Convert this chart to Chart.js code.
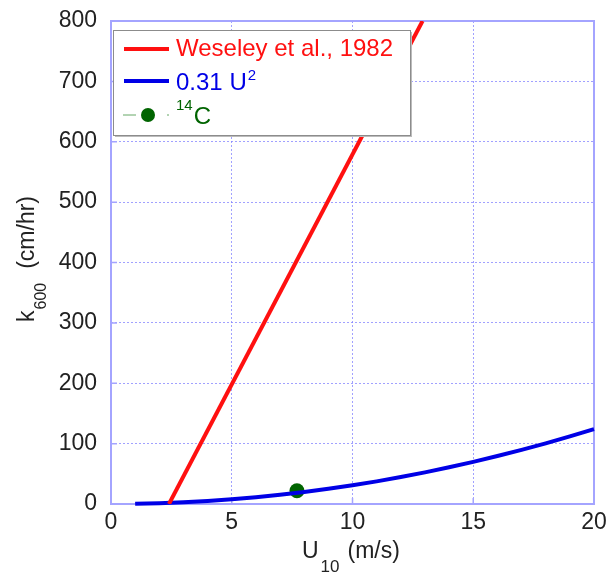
<!DOCTYPE html>
<html>
<head>
<meta charset="utf-8">
<script src="https://cdn.jsdelivr.net/npm/chart.js@4/dist/chart.umd.min.js"></script>
<style>
html, body { margin: 0; padding: 0; background: #fff; }
#wrap { width: 606px; height: 573px; }
</style>
</head>
<body>
<div id="wrap"><canvas id="chart" width="606" height="573"></canvas></div>
<script>
// Данные
const uWind = [1, 2, 3, 4, 5, 6, 7, 8, 9, 10, 11, 12, 13, 14, 15, 16, 17, 18, 19, 20];
const k600 = [0.3, 1.2, 2.8, 5.0, 7.8, 11.2, 15.2, 19.8, 25.1, 31.0, 37.5, 44.6, 52.4, 60.8, 69.8, 79.4, 89.6, 100.4, 111.9, 124.0];
const weseleyU = [2.4, 12.9];
const weseleyK = [0, 800];
const c14U = [7.7];
const c14K = [22];
const xTicks = [0, 5, 10, 15, 20];
const yTicks = [0, 100, 200, 300, 400, 500, 600, 700, 800];

const FONT = "'Liberation Sans', Arial, Helvetica, sans-serif";
const RED = '#ff1010';
const BLUE = '#0000e6';
const GREEN = '#006400';
const FRAME = '#a4a4ff';

function pts(xs, ys) {
    return xs.map((x, i) => ({ x: x, y: ys[i] }));
}

// убираем отступы, которые Chart.js добавляет под подписи
function noOverflow(axis) {
    axis.paddingTop = 0;
    axis.paddingBottom = 0;
    axis.paddingLeft = 0;
    axis.paddingRight = 0;
}

// Рамка области графика и короткие засечки
const framePlugin = {
    id: 'frame',
    beforeDatasetsDraw(chart) {
        const { ctx, chartArea: a, scales } = chart;
        ctx.save();
        ctx.strokeStyle = FRAME;
        ctx.lineWidth = 2;
        ctx.strokeRect(a.left, a.top, a.right - a.left, a.bottom - a.top);
        ctx.lineWidth = 1.5;
        ctx.beginPath();
        yTicks.forEach(v => {
            const y = scales.y.getPixelForValue(v);
            ctx.moveTo(a.left, y);
            ctx.lineTo(a.left + 6, y);
        });
        xTicks.forEach(v => {
            const x = scales.x.getPixelForValue(v);
            ctx.moveTo(x, a.bottom);
            ctx.lineTo(x, a.bottom - 6);
        });
        ctx.stroke();
        ctx.restore();
    }
};

// Легенда и подписи осей с индексами
const labelsPlugin = {
    id: 'labels',
    afterDraw(chart) {
        const ctx = chart.ctx;
        ctx.save();

        // легенда
        const bx = 113, by = 30, bw = 297, bh = 105;
        ctx.fillStyle = '#bbbbbb';
        ctx.fillRect(bx + 2, by + 2, bw, bh);
        ctx.fillStyle = '#ffffff';
        ctx.fillRect(bx, by, bw, bh);
        ctx.strokeStyle = '#8c8c8c';
        ctx.lineWidth = 1;
        ctx.strokeRect(bx + 0.5, by + 0.5, bw, bh);

        ctx.textBaseline = 'alphabetic';
        ctx.textAlign = 'left';

        // Weseley
        ctx.strokeStyle = RED;
        ctx.lineWidth = 4;
        ctx.beginPath();
        ctx.moveTo(124, 49);
        ctx.lineTo(169, 49);
        ctx.stroke();
        ctx.fillStyle = RED;
        ctx.font = '24px ' + FONT;
        ctx.fillText('Weseley et al., 1982', 176, 56);

        // 0.31 U^2
        ctx.strokeStyle = BLUE;
        ctx.beginPath();
        ctx.moveTo(124, 81);
        ctx.lineTo(169, 81);
        ctx.stroke();
        ctx.fillStyle = BLUE;
        ctx.fillText('0.31 U', 176, 90);
        let w = ctx.measureText('0.31 U').width;
        ctx.font = '15px ' + FONT;
        ctx.fillText('2', 176 + w + 1, 80);

        // 14C
        ctx.strokeStyle = '#66a866';
        ctx.lineWidth = 1;
        ctx.beginPath();
        ctx.moveTo(123, 115);
        ctx.lineTo(136, 115);
        ctx.moveTo(167, 115);
        ctx.lineTo(169, 115);
        ctx.stroke();
        ctx.fillStyle = GREEN;
        ctx.beginPath();
        ctx.arc(148, 115, 7, 0, Math.PI * 2);
        ctx.fill();
        ctx.font = '15px ' + FONT;
        ctx.fillText('14', 176, 110);
        w = ctx.measureText('14').width;
        ctx.font = '24px ' + FONT;
        ctx.fillText('C', 176 + w + 1, 124);

        // подпись оси X
        ctx.fillStyle = '#222222';
        ctx.font = '23px ' + FONT;
        ctx.fillText('U', 302, 558);
        let x = 302 + ctx.measureText('U').width + 2;
        ctx.font = '17px ' + FONT;
        ctx.fillText('10', x, 572);
        x += ctx.measureText('10').width + 8;
        ctx.font = '23px ' + FONT;
        ctx.fillText('(m/s)', x, 558);

        // подпись оси Y
        ctx.translate(34, 322);
        ctx.rotate(-Math.PI / 2);
        ctx.font = '23px ' + FONT;
        ctx.fillText('k', 0, 0);
        x = ctx.measureText('k').width + 1;
        ctx.font = '16px ' + FONT;
        ctx.fillText('600', x, 12);
        x += ctx.measureText('600').width + 14;
        ctx.font = '23px ' + FONT;
        ctx.fillText('(cm/hr)', x, 0);

        ctx.restore();
    }
};

const gridStyle = {
    color: 'rgba(130, 130, 255, 0.75)',
    lineWidth: 1,
    drawTicks: false
};

new Chart(document.getElementById('chart'), {
    type: 'scatter',
    data: {
        datasets: [
            {
                label: 'Weseley et al., 1982',
                data: pts(weseleyU, weseleyK),
                showLine: true,
                borderColor: RED,
                borderWidth: 4,
                pointRadius: 0
            },
            {
                label: '0.31 U2',
                data: pts(uWind, k600),
                showLine: true,
                borderColor: BLUE,
                borderWidth: 4,
                pointRadius: 0,
                clip: 4
            },
            {
                label: '14C',
                data: pts(c14U, c14K),
                showLine: false,
                backgroundColor: GREEN,
                borderColor: GREEN,
                pointRadius: 7.5,
                borderWidth: 0
            }
        ]
    },
    options: {
        responsive: false,
        animation: false,
        devicePixelRatio: 1,
        layout: { padding: { top: 21, right: 12, left: 0, bottom: 0 } },
        plugins: {
            legend: { display: false },
            tooltip: { enabled: false }
        },
        scales: {
            x: {
                type: 'linear',
                min: 0,
                max: 20,
                afterBuildTicks: axis => { axis.ticks = xTicks.map(v => ({ value: v })); },
                afterFit: axis => { axis.height = 69; noOverflow(axis); },
                grid: Object.assign({}, gridStyle),
                border: { display: false, dash: [2, 2] },
                ticks: {
                    color: '#222222',
                    padding: 5,
                    maxRotation: 0,
                    font: { family: FONT, size: 23 }
                }
            },
            y: {
                type: 'linear',
                min: 0,
                max: 800,
                afterBuildTicks: axis => { axis.ticks = yTicks.map(v => ({ value: v })); },
                afterFit: axis => { axis.width = 111; noOverflow(axis); },
                grid: Object.assign({}, gridStyle),
                border: { display: false, dash: [2, 2] },
                ticks: {
                    color: '#222222',
                    padding: 14,
                    font: { family: FONT, size: 23 }
                }
            }
        }
    },
    plugins: [framePlugin, labelsPlugin]
});
</script>
</body>
</html>
